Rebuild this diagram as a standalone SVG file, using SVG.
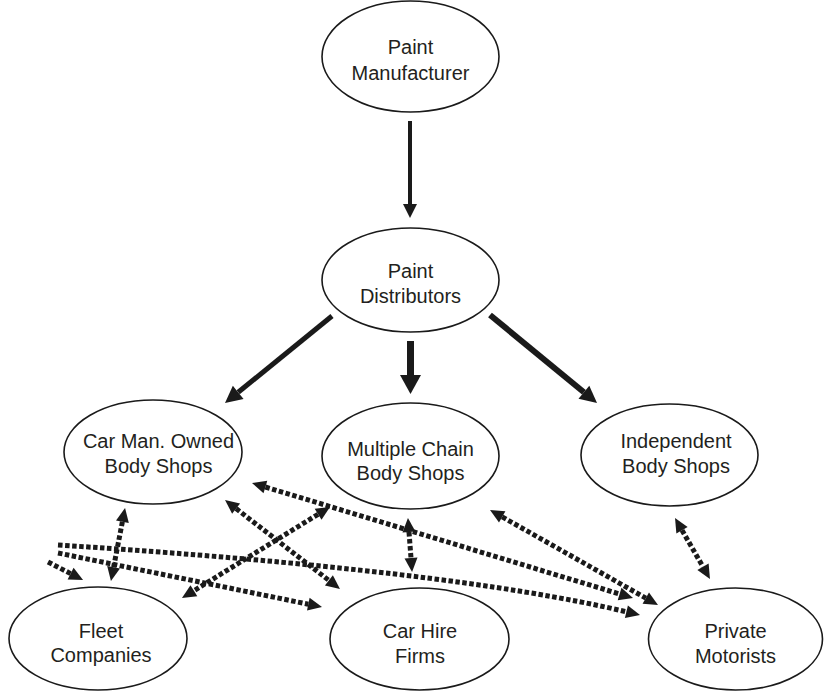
<svg xmlns="http://www.w3.org/2000/svg" width="824" height="692" viewBox="0 0 824 692">
  <style>
    .node ellipse { fill: #ffffff; stroke: #1a1a1a; stroke-width: 1.6; }
    .node text { font-family: "Liberation Sans", Arial, Helvetica, sans-serif; font-size: 20px; fill: #231f20; text-anchor: middle; }
    .flow { fill: none; stroke: #1a1a1a; }
    .link { fill: none; stroke: #1a1a1a; stroke-width: 5; stroke-dasharray: 4.5 2.5; marker-start: url(#dhead); marker-end: url(#dhead); }
    .link.one { marker-start: none; }
  </style>
  <defs>
    <!-- heads sit at the end of the shaft and extend forward past it -->
    <marker id="head-sm" viewBox="0 -7 14 14" refX="0" refY="0" markerWidth="14" markerHeight="14" markerUnits="userSpaceOnUse" orient="auto" overflow="visible">
      <path d="M0,-7 L14,0 L0,7 Z" fill="#1a1a1a"/>
    </marker>
    <marker id="head-md" viewBox="0 -8.5 17 17" refX="0" refY="0" markerWidth="17" markerHeight="17" markerUnits="userSpaceOnUse" orient="auto" overflow="visible">
      <path d="M0,-8.5 L17,0 L0,8.5 Z" fill="#1a1a1a"/>
    </marker>
    <marker id="head-lg" viewBox="0 -10.5 19 21" refX="0" refY="0" markerWidth="19" markerHeight="21" markerUnits="userSpaceOnUse" orient="auto" overflow="visible">
      <path d="M0,-10.5 L19,0 L0,10.5 Z" fill="#1a1a1a"/>
    </marker>
    <marker id="dhead" viewBox="0 -6.5 14 13" refX="0" refY="0" markerWidth="14" markerHeight="13" markerUnits="userSpaceOnUse" orient="auto-start-reverse" overflow="visible">
      <path d="M0,-6.5 L14,0 L0,6.5 Z" fill="#1a1a1a"/>
    </marker>
  </defs>

  <!-- supply flows (solid) and customer links (dashed) -->
  <g id="connectors">
    <line class="flow" x1="410" y1="121" x2="410" y2="204" stroke-width="4" marker-end="url(#head-sm)"/>
    <line class="flow" x1="410.5" y1="341" x2="410.5" y2="375" stroke-width="7" marker-end="url(#head-lg)"/>
    <line class="flow" x1="332" y1="316" x2="238.2" y2="392.3" stroke-width="5" marker-end="url(#head-md)"/>
    <line class="flow" x1="490" y1="315" x2="583.9" y2="392.2" stroke-width="6" marker-end="url(#head-md)"/>

    <path class="link" d="M122.4,521.7 L113.6,567.3"/>
    <path class="link" d="M236.1,508.6 L328.9,580.4"/>
    <path class="link" d="M318.1,514.3 L193.9,590.7"/>
    <path class="link" d="M265.4,487 L619.6,594"/>
    <path class="link" d="M502.2,516.9 L645.8,598.1"/>
    <path class="link" d="M409,532 L411,558"/>
    <path class="link" d="M682,530.2 L703,566.8"/>
    <path class="link one" d="M58,545 Q450,570 626.4,611.8"/>
    <path class="link one" d="M58,553 L308.3,604.2"/>
    <path class="link one" d="M48,562 L70.6,573.6"/>
  </g>

  <g id="paint-manufacturer" class="node">
    <ellipse cx="410.5" cy="56.5" rx="88.5" ry="55.5"/>
    <text x="410.5" y="54">Paint</text>
    <text x="410.5" y="80">Manufacturer</text>
  </g>
  <g id="paint-distributors" class="node">
    <ellipse cx="410.5" cy="280" rx="88.5" ry="52"/>
    <text x="410.5" y="278">Paint</text>
    <text x="410.5" y="303">Distributors</text>
  </g>
  <g id="car-man-owned" class="node">
    <ellipse cx="153" cy="452" rx="89" ry="52"/>
    <text x="158.5" y="448">Car Man. Owned</text>
    <text x="158.5" y="473">Body Shops</text>
  </g>
  <g id="multiple-chain" class="node">
    <ellipse cx="410.5" cy="456" rx="88.5" ry="53"/>
    <text x="410.5" y="456">Multiple Chain</text>
    <text x="410.5" y="480">Body Shops</text>
  </g>
  <g id="independent" class="node">
    <ellipse cx="669.5" cy="455" rx="88.5" ry="51"/>
    <text x="676" y="448">Independent</text>
    <text x="676" y="473">Body Shops</text>
  </g>
  <g id="fleet-companies" class="node">
    <ellipse cx="98" cy="638.5" rx="89" ry="51.5"/>
    <text x="101" y="638">Fleet</text>
    <text x="101" y="662">Companies</text>
  </g>
  <g id="car-hire-firms" class="node">
    <ellipse cx="419.5" cy="639" rx="89.5" ry="51"/>
    <text x="420" y="638">Car Hire</text>
    <text x="420" y="663">Firms</text>
  </g>
  <g id="private-motorists" class="node">
    <ellipse cx="735.5" cy="639" rx="87" ry="51"/>
    <text x="735.5" y="638">Private</text>
    <text x="735.5" y="663">Motorists</text>
  </g>
</svg>
